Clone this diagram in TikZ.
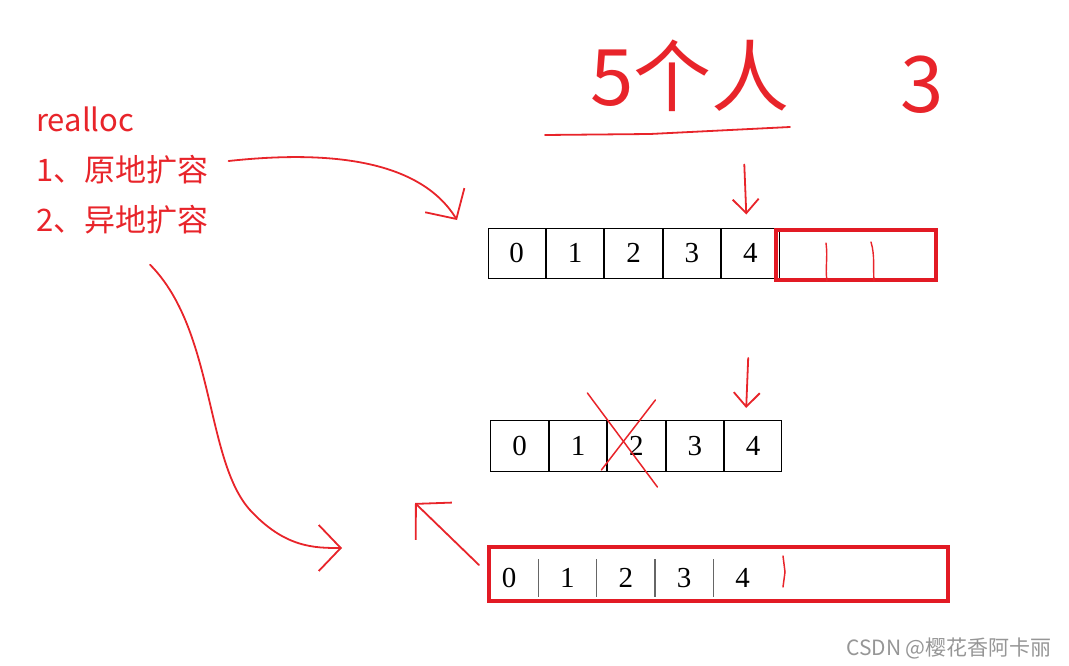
\documentclass[tikz,border=0pt]{standalone}
\usepackage{fontspec}
\setmainfont{Liberation Serif}
\newfontfamily\cjk{Noto Sans CJK SC}
\usetikzlibrary{arrows.meta, positioning, calc}
\definecolor{inkred}{RGB}{232, 36, 42}
\definecolor{boxred}{RGB}{226, 26, 36}
\definecolor{markgray}{RGB}{150, 150, 150}

\begin{document}
\begin{tikzpicture}[
  x=1pt, y=-1pt,
  cell/.style={draw, line width=1pt, minimum width=57.4pt, minimum height=50pt, inner sep=0pt, font=\fontsize{29}{29}\selectfont},
  digit/.style={minimum width=58pt, minimum height=37pt, inner sep=0pt, font=\fontsize{29}{29}\selectfont},
  notetext/.style={text=inkred, font=\cjk\fontsize{31}{31}\selectfont, anchor=west, inner sep=0pt},
  scrawl/.style={text=inkred, font=\cjk\fontsize{78}{78}\selectfont, inner sep=0pt},
  redbox/.style={draw=boxred, line width=4pt, inner sep=0pt},
  hand/.style={draw=inkred, line width=1.8pt, line cap=round, line join=round},
  sep/.style={draw=black!60, line width=1.2pt}
]
\useasboundingbox (0,0) rectangle (1069,666);

% notes on the left
\node[notetext] (realloc) at (36,119) {realloc};
\node[notetext] (inplace) at (36,170) {1、原地扩容};
\node[notetext] (moved) at (36,220) {2、异地扩容};

% handwriting on top
\node[scrawl] (people) at (690,76) {5个人};
\node[scrawl] (three) at (922,85) {3};
\draw[hand] (545,135) -- (650,134) -- (790,127);

% array 1, grown in place
\node[cell] (a0) at (516.7,253) {0};
\node[cell, right=0pt of a0] (a1) {1};
\node[cell, right=0pt of a1] (a2) {2};
\node[cell, right=0pt of a2] (a3) {3};
\node[cell, right=0pt of a3] (a4) {4};
\node[redbox, minimum width=160pt, minimum height=50pt] (ext) at (856,255) {};
\draw[hand, line width=1.4pt] (826,243) .. controls (828,258) and (825,268) .. (827,281);
\draw[hand, line width=1.4pt] (871,242) .. controls (875,255) and (873,268) .. (874,281);

% array 2, old block
\node[cell, minimum height=51pt] (b0) at (519.6,446) {0};
\node[cell, minimum height=51pt, right=0pt of b0] (b1) {1};
\node[cell, minimum height=51pt, right=0pt of b1] (b2) {2};
\node[cell, minimum height=51pt, right=0pt of b2] (b3) {3};
\node[cell, minimum height=51pt, right=0pt of b3] (b4) {4};
\draw[hand, line width=1.5pt] ($(b2)+(-49,-53)$) -- ($(b2)+(21,41)$);
\draw[hand, line width=1.5pt] ($(b2)+(19,-46)$) -- ($(b2)+(-35,24)$);

% array 3, new block
\node[redbox, minimum width=459pt, minimum height=54pt] (c) at (718.5,574) {};
\node[digit] (c0) at (509,578) {0};
\node[digit, right=0pt of c0] (c1) {1};
\node[digit, right=0pt of c1] (c2) {2};
\node[digit, right=0pt of c2] (c3) {3};
\node[digit, right=0pt of c3] (c4) {4};
\draw[sep] (c0.north east) -- (c0.south east);
\draw[sep] (c1.north east) -- (c1.south east);
\draw[sep] (c2.north east) -- (c2.south east);
\draw[sep] (c3.north east) -- (c3.south east);
\draw[hand, line width=1.5pt] (783,556) -- (785,572) -- (783,587);

% arrows
\coordinate (tipA) at (457,220);
\coordinate (tipB) at (342,548);
\coordinate (tipC) at (415,503);
\draw[hand, -{Straight Barb[length=22pt, width=46pt]}] ($(inplace.east)+(20,-9)$) .. controls (330,150) and (420,160) .. (tipA);
\draw[hand, -{Straight Barb[length=22pt, width=46pt]}] ($(moved.south west)+(114,30)$) .. controls (215,330) and (205,460) .. (250,510) .. controls (285,548) and (315,548) .. (tipB);
\draw[hand, -{Straight Barb[length=25pt, width=52pt]}] ($(c.west)+(-8,-9)$) -- (tipC);
\draw[hand, -{Straight Barb[length=14pt, width=26pt]}] ($(a4.north)+(-6,-63)$) -- ($(a4.north)+(-4,-13)$);
\draw[hand, -{Straight Barb[length=14pt, width=26pt]}] ($(b4.north)+(-5,-62)$) -- ($(b4.north)+(-7,-12)$);

% watermark
\node[font=\cjk\fontsize{21}{21}\selectfont, text=markgray, anchor=east, inner sep=0pt] (mark) at (1052,648) {CSDN @樱花香阿卡丽};
\end{tikzpicture}
\end{document}
